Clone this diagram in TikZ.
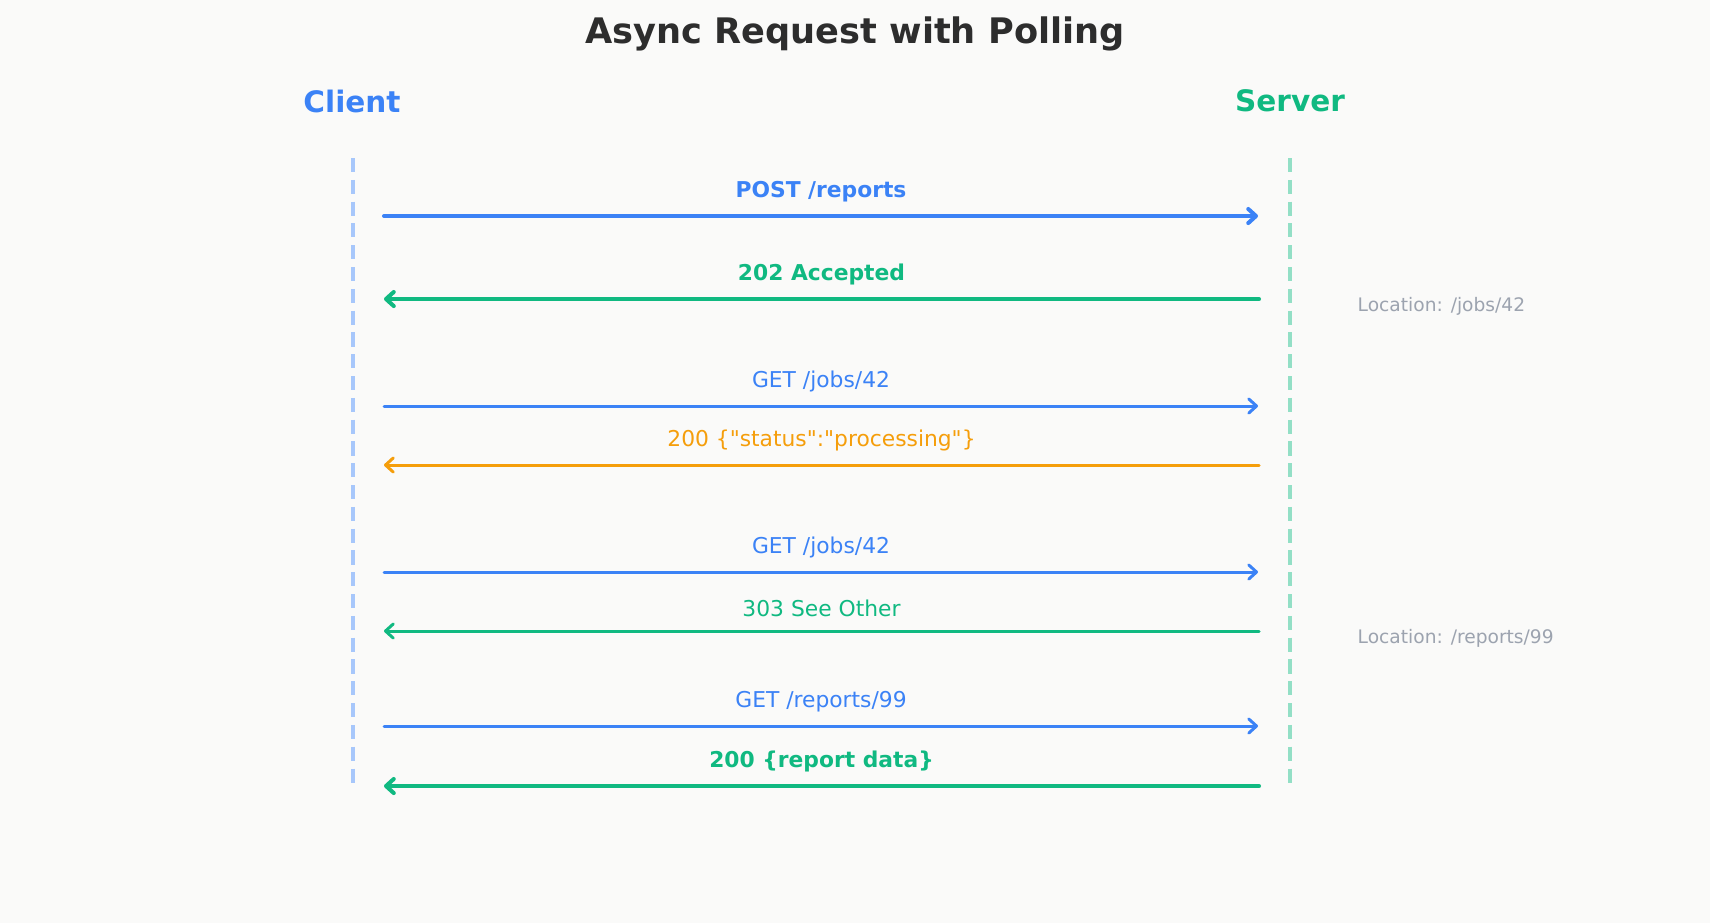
\documentclass[tikz,border=0pt]{standalone}
\usepackage{fontspec}
\setmainfont{DejaVu Sans}
\usetikzlibrary{arrows.meta,positioning}
\definecolor{cblue}{HTML}{3B82F6}
\definecolor{cgreen}{HTML}{10B981}
\definecolor{corange}{HTML}{F59E0B}
\definecolor{cgray}{HTML}{9CA3AF}
\definecolor{ctitle}{HTML}{2D2D2D}
\definecolor{cbg}{HTML}{FAFAF9}
\tikzset{
    tmp/.style   = {coordinate},
    actor/.style = {font=\fontsize{8.4}{10}\selectfont\bfseries},
    life/.style  = {line width=1.1pt, dash pattern=on 4pt off 2.2pt},
    msg/.style   = {line width=0.85pt, line cap=round, -{Straight Barb[length=2.2pt,width=4pt,round]}},
    big/.style   = {line width=1.15pt},
    lbl/.style   = {font=\fontsize{6.2}{7}\selectfont, above=0.2pt},
    blbl/.style  = {lbl, font=\fontsize{6.2}{7}\selectfont\bfseries},
    note/.style  = {font=\fontsize{5.3}{6}\selectfont, text=cgray, anchor=west, inner sep=0pt}
}
\begin{document}
\begin{tikzpicture}[x=0.01cm, y=-0.01cm]
    \fill [cbg] (0,0) rectangle (1710,923);
    \node [font=\fontsize{10}{12}\selectfont\bfseries, text=ctitle] (title) at (855,34) {Async Request with Polling};
    \node [actor, text=cblue]  (client) at (352,101)  {Client};
    \node [actor, text=cgreen] (server) at (1290,101) {Server};

    \node [tmp] (ctop) at (353,158) {};
    \node [tmp] (cbot) at (353,787) {};
    \node [tmp] (stop) at (1290,158) {};
    \node [tmp] (sbot) at (1290,787) {};
    \draw [life, cblue!45]  (ctop) -- (cbot);
    \draw [life, cgreen!45] (stop) -- (sbot);

    % message end points
    \node [tmp] (c1) at (384,216) {};  \node [tmp] (s1) at (1258,216) {};
    \node [tmp] (c2) at (384,299) {};  \node [tmp] (s2) at (1259,299) {};
    \node [tmp] (c3) at (384,406) {};  \node [tmp] (s3) at (1258,406) {};
    \node [tmp] (c4) at (384,465) {};  \node [tmp] (s4) at (1259,465) {};
    \node [tmp] (c5) at (384,572) {};  \node [tmp] (s5) at (1258,572) {};
    \node [tmp] (c6) at (384,631) {};  \node [tmp] (s6) at (1259,631) {};
    \node [tmp] (c7) at (384,726) {};  \node [tmp] (s7) at (1258,726) {};
    \node [tmp] (c8) at (384,786) {};  \node [tmp] (s8) at (1259,786) {};

    \draw [msg, big, cblue]  (c1) -- node[blbl, text=cblue] {POST /reports} (s1);
    \draw [msg, big, cgreen] (s2) -- node[blbl, text=cgreen] {202 Accepted} (c2);
    \draw [msg, cblue]       (c3) -- node[lbl, text=cblue] {GET /jobs/42} (s3);
    \draw [msg, corange]     (s4) -- node[lbl, text=corange] {200 \{\textquotedbl status\textquotedbl:\textquotedbl processing\textquotedbl\}} (c4);
    \draw [msg, cblue]       (c5) -- node[lbl, text=cblue] {GET /jobs/42} (s5);
    \draw [msg, cgreen]      (s6) -- node[lbl, text=cgreen] {303 See Other} (c6);
    \draw [msg, cblue]       (c7) -- node[lbl, text=cblue] {GET /reports/99} (s7);
    \draw [msg, big, cgreen] (s8) -- node[blbl, text=cgreen] {200 \{report data\}} (c8);

    \node [note] (loc1) at (1357,306) {Location: /jobs/42};
    \node [note] (loc2) at (1357,638) {Location: /reports/99};
\end{tikzpicture}
\end{document}
